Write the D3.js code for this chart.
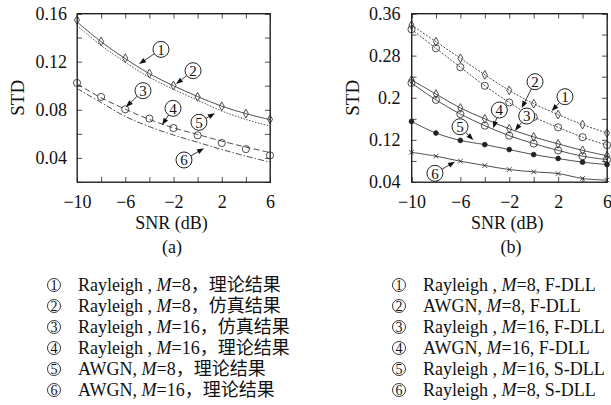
<!DOCTYPE html>
<html>
<head>
<meta charset="utf-8">
<script src="https://cdn.jsdelivr.net/npm/d3@7"></script>
<style>
  body { margin: 0; background: #fff; }
  svg { display: block; }
  text { font-family: "Liberation Serif", "Noto Sans CJK SC", serif; fill: #111; }
  .axis path, .axis line { stroke: #222; stroke-width: 0.8; }
</style>
</head>
<body>
<svg width="611" height="405"></svg>
<script>
//-------------------
// DATA
//-------------------
var snr = [-10, -8, -6, -4, -2, 0, 2, 4, 6];

// (a)
var rayM8Theory  = [0.153, 0.1365, 0.1225, 0.110, 0.100, 0.091, 0.083, 0.0768, 0.0718];
var rayM8Sim     = [0.1546, 0.1368, 0.1229, 0.1102, 0.1002, 0.0907, 0.0829, 0.0768, 0.0721];
var rayM16Sim    = [0.1023, 0.0907, 0.0804, 0.0727, 0.0648, 0.0588, 0.0524, 0.0473, 0.0421];
var rayM16Theory = [0.1015, 0.090, 0.0805, 0.072, 0.065, 0.0595, 0.054, 0.049, 0.0445];
var awgnM8Theory = [0.150, 0.1335, 0.1195, 0.107, 0.097, 0.088, 0.079, 0.072, 0.0665];
var awgnM16Theory = [0.0977, 0.086, 0.0745, 0.066, 0.059, 0.053, 0.047, 0.0415, 0.0365];

// (b)
var rayM8F   = [0.338, 0.3066, 0.275, 0.2436, 0.214, 0.1887, 0.168, 0.149, 0.133];
var awgnM8F  = [0.330, 0.294, 0.258, 0.2227, 0.191, 0.1635, 0.1438, 0.125, 0.110];
var rayM16F  = [0.234, 0.207, 0.1806, 0.160, 0.141, 0.1256, 0.1124, 0.100, 0.090];
var awgnM16F = [0.228, 0.196, 0.169, 0.147, 0.128, 0.113, 0.100, 0.089, 0.0826];
var rayM16S  = [0.155, 0.133, 0.119, 0.111, 0.1016, 0.092, 0.0846, 0.0776, 0.0732];
var rayM8S   = [0.0965, 0.089, 0.0795, 0.0713, 0.0637, 0.0593, 0.056, 0.0467, 0.0435];

var xTicks = [-10, -8, -6, -4, -2, 0, 2, 4, 6];
var xLabels = [-10, -6, -2, 2, 6];
var yTicksA = [0.02, 0.04, 0.06, 0.08, 0.10, 0.12, 0.14, 0.16];
var yLabelsA = [0.04, 0.08, 0.12, 0.16];
var yTicksB = [0.04, 0.08, 0.12, 0.16, 0.20, 0.24, 0.28, 0.32, 0.36];
var yLabelsB = [0.04, 0.12, 0.2, 0.28, 0.36];

// callouts: number, circle centre (dB, STD), arrow tip (dB, STD)
var calloutsA = [
    [1, -3.04, 0.1302, -4.86, 0.118],
    [2, -0.38, 0.1125, -1.79, 0.1014],
    [3, -4.53, 0.0959, -5.94, 0.0823],
    [4, -2.04, 0.0812, -2.95, 0.0674],
    [5, 0.11, 0.0696, 1.44, 0.0771],
    [6, -1.13, 0.0383, 0.53, 0.048]
];
var calloutsB = [
    [1, 2.56, 0.202, 1.47, 0.1748],
    [2, 0.11, 0.2305, -0.98, 0.1805],
    [3, -0.57, 0.1653, -1.53, 0.1374],
    [4, -2.81, 0.1767, -3.31, 0.142],
    [5, -6.03, 0.145, -4.94, 0.1198],
    [6, -8.08, 0.0565, -6.44, 0.0786]
];

var legendA = [
    ["Rayleigh , ", "=8", "，理论结果"],
    ["Rayleigh , ", "=8", "，仿真结果"],
    ["Rayleigh , ", "=16", "，仿真结果"],
    ["Rayleigh , ", "=16", "，理论结果"],
    ["AWGN, ", "=8", "，理论结果"],
    ["AWGN, ", "=16", "，理论结果"]
];
var legendB = [
    ["Rayleigh , ", "=8", ", F-DLL"],
    ["AWGN, ", "=8", ", F-DLL"],
    ["Rayleigh , ", "=16", ", F-DLL"],
    ["AWGN, ", "=16", ", F-DLL"],
    ["Rayleigh , ", "=16", ", S-DLL"],
    ["Rayleigh , ", "=8", ", S-DLL"]
];

//-------------------
// SETUP
//-------------------
var svg = d3.select("svg");
var ink = "#222";
var fmtY = d => String(+d.toFixed(2));

var xa = d3.scaleLinear().domain([-10, 6]).range([77, 270]);
var ya = d3.scaleLinear().domain([0.02, 0.16]).range([182, 13.5]);
var xb = d3.scaleLinear().domain([-10, 6]).range([411.5, 607]);
var yb = d3.scaleLinear().domain([0.04, 0.36]).range([182, 13.5]);

var defs = svg.append("defs");
defs.append("clipPath").attr("id", "clipA").append("rect")
    .attr("x", 77).attr("y", 13.5).attr("width", 193).attr("height", 168.5);
defs.append("clipPath").attr("id", "clipB").append("rect")
    .attr("x", 411.5).attr("y", 13.5).attr("width", 195.5).attr("height", 168.5);

//-------------------
// PANEL FRAME + AXES
//-------------------
function drawFrame(x, y, yTicks, yLabels, labelPad) {
    var r0 = x.range(), r1 = y.range();
    var g = svg.append("g");

    g.append("g").attr("class", "axis").attr("transform", `translate(0,${r1[0]})`)
        .call(d3.axisBottom(x).tickValues(xTicks).tickSize(-5).tickPadding(13)
            .tickFormat(d => xLabels.includes(d) ? d3.format("")(d) : ""));
    g.append("g").attr("class", "axis").attr("transform", `translate(0,${r1[1]})`)
        .call(d3.axisTop(x).tickValues(xTicks).tickSize(-5).tickFormat(""));
    g.append("g").attr("class", "axis").attr("transform", `translate(${r0[0]},0)`)
        .call(d3.axisLeft(y).tickValues(yTicks).tickSize(-5).tickPadding(labelPad)
            .tickFormat(d => yLabels.some(v => Math.abs(v - d) < 1e-9) ? fmtY(d) : ""));
    g.append("g").attr("class", "axis").attr("transform", `translate(${r0[1]},0)`)
        .call(d3.axisRight(y).tickValues(yTicks).tickSize(-5).tickFormat(""));

    g.selectAll(".axis text").style("font-size", "18px")
        .style("font-family", "'Liberation Serif', serif").attr("fill", "#111");

    g.append("rect")
        .attr("x", r0[0]).attr("y", r1[1])
        .attr("width", r0[1] - r0[0]).attr("height", r1[0] - r1[1])
        .attr("fill", "none").attr("stroke", ink).attr("stroke-width", 1);

    var cx = (r0[0] + r0[1]) / 2;
    g.append("text").attr("x", cx - 2).attr("y", 229).attr("text-anchor", "middle")
        .style("font-size", "18px").text("SNR (dB)");
    g.append("text").attr("transform", `translate(${r0[0] - 53},${(r1[0] + r1[1]) / 2}) rotate(-90)`)
        .attr("text-anchor", "middle").style("font-size", "19px").text("STD");
}

function drawLine(x, y, vals, dash, clip) {
    var line = d3.line().x((d, i) => x(snr[i])).y(d => y(d)).curve(d3.curveCatmullRom);
    svg.append("path").datum(vals)
        .attr("clip-path", `url(#${clip})`)
        .attr("d", line)
        .attr("fill", "none").attr("stroke", ink).attr("stroke-width", 0.8)
        .attr("stroke-dasharray", dash);
}

function drawMarks(x, y, vals, type, size, filled) {
    svg.append("g").selectAll("path").data(vals).join("path")
        .attr("transform", (d, i) => `translate(${x(snr[i])},${y(d)})`)
        .attr("d", d3.symbol().type(type).size(size))
        .attr("fill", filled ? ink : "#fff").attr("fill-opacity", filled ? 1 : 0)
        .attr("stroke", ink).attr("stroke-width", 0.8);
}

function drawCallouts(x, y, list) {
    var rr = 8;
    list.forEach(c => {
        var px = x(c[1]), py = y(c[2]), tx = x(c[3]), ty = y(c[4]);
        var ang = Math.atan2(ty - py, tx - px);
        var sx = px + rr * Math.cos(ang), sy = py + rr * Math.sin(ang);
        var hl = 7, hw = 2.6;
        var bx = tx - hl * Math.cos(ang), by = ty - hl * Math.sin(ang);
        var g = svg.append("g");
        g.append("line").attr("x1", sx).attr("y1", sy).attr("x2", bx).attr("y2", by)
            .attr("stroke", ink).attr("stroke-width", 0.9);
        g.append("path")
            .attr("d", `M${tx},${ty}L${bx - hw * Math.sin(ang)},${by + hw * Math.cos(ang)}L${bx + hw * Math.sin(ang)},${by - hw * Math.cos(ang)}Z`)
            .attr("fill", "#111");
        g.append("circle").attr("cx", px).attr("cy", py).attr("r", rr)
            .attr("fill", "#fff").attr("stroke", ink).attr("stroke-width", 1);
        g.append("text").attr("x", px).attr("y", py + 5.3).attr("text-anchor", "middle")
            .style("font-size", "15px").text(c[0]);
    });
}

function drawLegend(x0, list) {
    list.forEach((item, i) => {
        var cy = 285 + i * 21;
        svg.append("circle").attr("cx", x0 + 7).attr("cy", cy).attr("r", 6.5)
            .attr("fill", "none").attr("stroke", ink).attr("stroke-width", 0.9);
        svg.append("text").attr("x", x0 + 7).attr("y", cy + 4.8).attr("text-anchor", "middle")
            .style("font-size", "14px").text(i + 1);
        var t = svg.append("text").attr("x", x0 + 31).attr("y", cy + 6).style("font-size", "18px");
        t.append("tspan").text(item[0]);
        t.append("tspan").style("font-style", "italic").text("M");
        t.append("tspan").text(item[1]);
        t.append("tspan").text(item[2]);
    });
}

//-------------------
// PANEL (a)
//-------------------
drawFrame(xa, ya, yTicksA, yLabelsA, 10);
drawLine(xa, ya, rayM8Theory, null, "clipA");
drawLine(xa, ya, awgnM8Theory, "1.5,1.5", "clipA");
drawLine(xa, ya, rayM16Theory, "6,3", "clipA");
drawLine(xa, ya, awgnM16Theory, "6,2,1.5,2", "clipA");
drawMarks(xa, ya, rayM8Sim, d3.symbolDiamond, 22, false);
drawMarks(xa, ya, rayM16Sim, d3.symbolCircle, 40, false);
drawCallouts(xa, ya, calloutsA);
svg.append("text").attr("x", 172).attr("y", 253).attr("text-anchor", "middle")
    .style("font-size", "18px").text("(a)");

//-------------------
// PANEL (b)
//-------------------
drawFrame(xb, yb, yTicksB, yLabelsB, 11);
drawLine(xb, yb, rayM8F, "2,1.5", "clipB");
drawLine(xb, yb, awgnM8F, "2,1.5", "clipB");
drawLine(xb, yb, rayM16F, null, "clipB");
drawLine(xb, yb, awgnM16F, null, "clipB");
drawLine(xb, yb, rayM16S, null, "clipB");
drawLine(xb, yb, rayM8S, null, "clipB");
drawMarks(xb, yb, rayM8F, d3.symbolDiamond, 22, false);
drawMarks(xb, yb, awgnM8F, d3.symbolCircle, 40, false);
drawMarks(xb, yb, rayM16F, d3.symbolDiamond, 22, false);
drawMarks(xb, yb, awgnM16F, d3.symbolCircle, 40, false);
drawMarks(xb, yb, rayM16S, d3.symbolCircle, 18, true);
drawMarks(xb, yb, rayM8S, d3.symbolX, 16, false);
drawCallouts(xb, yb, calloutsB);
svg.append("text").attr("x", 511).attr("y", 253).attr("text-anchor", "middle")
    .style("font-size", "18px").text("(b)");

//-------------------
// LEGENDS
//-------------------
drawLegend(47, legendA);
drawLegend(392, legendB);
</script>
</body>
</html>
